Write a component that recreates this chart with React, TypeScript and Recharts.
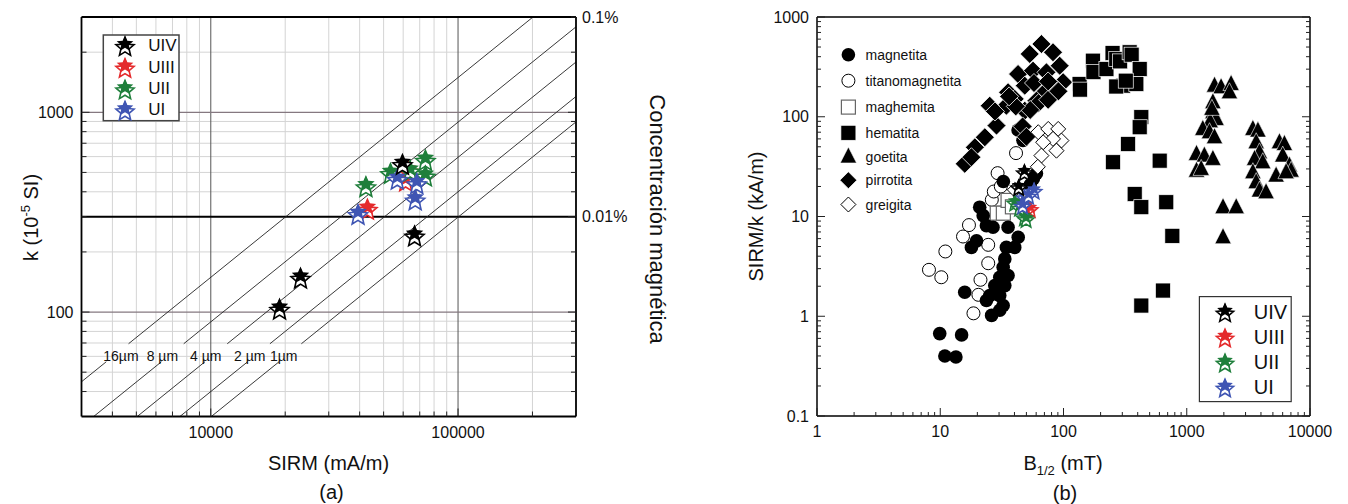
import React from "react";
import { ScatterChart, Scatter, XAxis, YAxis, ReferenceLine } from "recharts";

const FONT = "'Liberation Sans', Arial, Helvetica, sans-serif";

// ---------- panel (a): k vs SIRM ----------
const sirmMajor = [10000, 100000];
const sirmMinor = [4000, 5000, 6000, 7000, 8000, 9000, 20000, 30000, 40000, 50000, 60000, 70000, 80000, 90000, 200000];
const kMajor = [100, 1000];
const kMinor = [40, 50, 60, 70, 80, 90, 200, 300, 400, 500, 600, 700, 800, 900, 2000];
const concTicks = [30, 300, 3000];
const concLabels = ["0.001%", "0.01%", "0.1%"];
const grainRatio = [67, 112, 168, 250, 335]; // SIRM / k along each grain-size line
const grainNames = ["16µm", "8 µm", "4 µm", "2 µm", "1µm"];

const uivA: [number, number][] = [[59600, 557], [66700, 244], [23060, 150], [18970, 105]];
const uiiiA: [number, number][] = [[43000, 332], [62700, 516], [61400, 460]];
const uiiA: [number, number][] = [[42400, 431], [73800, 584], [53300, 502], [64000, 516], [73800, 487]];
const uiA: [number, number][] = [[39400, 313], [56800, 469], [68100, 446], [67100, 370]];

// ---------- panel (b): SIRM/k vs B1/2 ----------
const bMajor = [1, 10, 100, 1000, 10000];
const bMinor = [2, 3, 4, 5, 6, 7, 8, 9, 20, 30, 40, 50, 60, 70, 80, 90, 200, 300, 400, 500, 600, 700, 800, 900, 2000, 3000, 4000, 5000, 6000, 7000, 8000, 9000];
const rMajor = [0.1, 1, 10, 100, 1000];
const rMinor = [0.2, 0.3, 0.4, 0.5, 0.6, 0.7, 0.8, 0.9, 2, 3, 4, 5, 6, 7, 8, 9, 20, 30, 40, 50, 60, 70, 80, 90, 200, 300, 400, 500, 600, 700, 800, 900];

const magnetita: [number, number][] = [
  [9.9, 0.67], [14.9, 0.65], [10.9, 0.4], [13.4, 0.39], [15.8, 1.74],
  [20.9, 12.4], [22.3, 10.2], [23.7, 8.1], [26.8, 7.8], [19.7, 5.7], [17.9, 4.9],
  [35.5, 7.8], [42.9, 6.2], [34.4, 4.9], [40.2, 4.9], [33.4, 3.76], [32.4, 3.1],
  [35.5, 2.56], [30.4, 2.46], [27.7, 2.03], [33.4, 2.03], [25.2, 1.61], [30.4, 1.61],
  [32.4, 1.28], [23.7, 1.44], [26.1, 1.02], [30.4, 1.15],
  [32.5, 22.4], [42.8, 73.6], [46.9, 58], [60.3, 27], [53.7, 20.8], [57, 24],
];
const titanomagnetita: [number, number][] = [
  [8.1, 2.92], [10.2, 2.46], [11, 4.46], [15.3, 6.3], [17.1, 8.2], [24.5, 5.2], [24.5, 3.4],
  [21.2, 2.32], [20.4, 1.64], [18.6, 1.07], [26.2, 14.7], [27.2, 17.8], [29.2, 27.2], [41.2, 43.2], [31, 20],
];
const maghemita: [number, number][] = [[29, 10.8], [32.5, 10.8], [35.5, 14.5], [38.5, 12.5]];
const hematita: [number, number][] = [
  [135, 213], [136, 187], [173, 365], [175, 280], [223, 301], [250, 435], [268, 379], [288, 359],
  [344, 443], [357, 419], [415, 301], [304, 205], [390, 213], [268, 201], [320, 230],
  [428, 99], [415, 78.5], [334, 53.3], [252, 35], [603, 36.3], [378, 16.8], [428, 12.4],
  [682, 13.9], [764, 6.4], [641, 1.81], [428, 1.28],
];
const goetita: [number, number][] = [
  [1680, 205], [1900, 198], [2290, 213], [2220, 176], [1630, 140], [1630, 111], [1730, 95],
  [1550, 90], [1600, 120], [1350, 75.5], [1530, 70], [1680, 62.4], [1200, 42.4], [1390, 40.8],
  [1630, 37.8], [1200, 28.8], [1310, 30], [1970, 12.4], [2520, 12.4], [1970, 6.2],
  [3440, 75.5], [3780, 72.6], [3660, 55.5], [3890, 44], [3550, 37.8], [4140, 35], [3440, 27.8],
  [3660, 22.1], [3890, 18.2], [4400, 17.5], [5650, 55.5], [6200, 53.3], [6010, 40.8],
  [6810, 32.4], [7030, 28.8], [5310, 25.7], [6400, 27.8],
];
const pirrotita: [number, number][] = [
  [66.2, 536], [53.2, 426], [82.2, 443], [42.8, 268], [56.6, 290], [72.7, 279], [93.1, 325],
  [99.3, 222], [87.7, 190], [70.4, 176], [60.3, 145], [48.5, 205], [35.5, 176], [40.2, 151],
  [34.4, 129], [48.5, 115], [25.2, 129], [28.6, 81.5], [23, 62.3], [19.1, 49.4], [15.8, 33.7],
  [17.9, 39.3], [27.8, 113], [46.6, 80], [50, 63], [62.8, 137], [75, 148], [53.7, 117],
  [57.6, 218], [75, 226], [91, 180], [41, 127], [36.2, 160],
];
const greigita: [number, number][] = [
  [62.4, 70], [75.2, 75.5], [90.6, 75.5], [96.2, 57.7], [82.2, 60], [87.7, 45.7], [68.4, 55.5],
  [66.2, 40.8], [61.9, 31.5], [40.3, 18.5],
];
const uivB: [number, number][] = [[48.2, 28.3], [43.3, 20]];
const uiiiB: [number, number][] = [[53.7, 12.1], [50, 11.5]];
const uiiB: [number, number][] = [[40.3, 14.1], [48.2, 10], [49.7, 9.6], [44, 12.5]];
const uiB: [number, number][] = [[57.7, 18.5], [48.2, 15.9], [46.6, 13.1], [52, 16.5]];

const RED = "#e42a2c";
const GREEN = "#1f7f3b";
const BLUE = "#3f55b3";

const pts = (a: [number, number][]) => a.map(([x, y]) => ({ x, y }));

function starPath(cx: number, cy: number, R: number, r: number) {
  let d = "";
  for (let i = 0; i < 10; i++) {
    const ang = -Math.PI / 2 + (i * Math.PI) / 5;
    const rad = i % 2 === 0 ? R : r;
    d += (i === 0 ? "M" : "L") + (cx + rad * Math.cos(ang)).toFixed(2) + "," + (cy + rad * Math.sin(ang)).toFixed(2);
  }
  return d + "Z";
}

function DoubleStar({ cx, cy, color, R }: { cx: number; cy: number; color: string; R: number }) {
  return (
    <g>
      <path d={starPath(cx, cy + R * 0.28, R, R * 0.45)} fill="#fff" stroke={color} strokeWidth={1.6} />
      <path d={starPath(cx, cy - R * 0.12, R * 0.92, R * 0.42)} fill={color} />
    </g>
  );
}

const starShape = (color: string, R: number) => (p: any) => <DoubleStar cx={p.cx} cy={p.cy} color={color} R={R} />;
const dotShape = (p: any) => <circle cx={p.cx} cy={p.cy} r={6.8} fill="#000" />;
const ringShape = (p: any) => <circle cx={p.cx} cy={p.cy} r={6.5} fill="#fff" stroke="#000" strokeWidth={1} />;
const openSquare = (p: any) => <rect x={p.cx - 7} y={p.cy - 7} width={14} height={14} fill="#fff" stroke="#666" strokeWidth={1.2} />;
const fullSquare = (p: any) => <rect x={p.cx - 7.5} y={p.cy - 7.5} width={15} height={15} fill="#000" stroke="#fff" strokeWidth={0.7} />;
const diamondShape = (fill: string, h: number) => (p: any) => (
  <path d={`M${p.cx},${p.cy - h}L${p.cx + h},${p.cy}L${p.cx},${p.cy + h}L${p.cx - h},${p.cy}Z`} fill={fill}
    stroke={fill === "#000" ? "#fff" : "#000"} strokeWidth={fill === "#000" ? 0.8 : 1} />
);
const triShape = (p: any) => (
  <path d={`M${p.cx},${p.cy - 9.5}L${p.cx + 8.2},${p.cy + 6.5}L${p.cx - 8.2},${p.cy + 6.5}Z`} fill="#000" stroke="#fff" strokeWidth={0.6} />
);

type Side = "bottom" | "top" | "left" | "right";
function tickFn(side: Side, majors: number[], lenMajor: number, lenMinor: number, label?: (v: number) => string | null, fs = 16) {
  return (p: any) => {
    const x = p.x as number;
    const y = p.y as number;
    const v = p.payload?.value as number;
    const major = majors.includes(v);
    const len = major ? lenMajor : lenMinor;
    let x2 = x, y2 = y;
    if (side === "bottom") y2 = y - len;
    if (side === "top") y2 = y + len;
    if (side === "left") x2 = x + len;
    if (side === "right") x2 = x - len;
    const txt = label ? label(v) : null;
    let t = null;
    if (txt) {
      if (side === "bottom") t = <text x={x} y={y + 21} textAnchor="middle" fontSize={fs} fontFamily={FONT} fill="#111">{txt}</text>;
      if (side === "left") t = <text x={x - 8} y={y + 5.5} textAnchor="end" fontSize={fs} fontFamily={FONT} fill="#111">{txt}</text>;
      if (side === "right") t = <text x={x + 6} y={y + 5.5} textAnchor="start" fontSize={fs} fontFamily={FONT} fill="#111">{txt}</text>;
    }
    return (
      <g>
        <line x1={x} y1={y} x2={x2} y2={y2} stroke="#222" strokeWidth={1} />
        {t}
      </g>
    );
  };
}

const AXIS_A = { stroke: "#000", strokeWidth: 1.8 };
const AXIS_B = { stroke: "#000", strokeWidth: 1.5 };

// label gap in the grain-size lines (k values)
const GAP_LO = 56.4;
const GAP_HI = 69.4;

function grainSegments(c: number) {
  const segs: { x: number; y: number }[][] = [];
  const xs = Math.max(3000, 30 * c);
  const xe = GAP_LO * c;
  if (xe > xs) segs.push([{ x: xs, y: xs / c }, { x: xe, y: GAP_LO }]);
  const us = Math.max(3000, GAP_HI * c);
  const ue = Math.min(300000, 3000 * c);
  segs.push([{ x: us, y: us / c }, { x: ue, y: ue / c }]);
  return segs;
}

function PanelA() {
  const allX = [...sirmMinor, ...sirmMajor].sort((a, b) => a - b);
  const allY = [...kMinor, ...kMajor].sort((a, b) => a - b);
  return (
    <ScatterChart width={700} height={504} margin={{ top: 7, right: 64, bottom: 47.5, left: 21.5 }}>
      <XAxis dataKey="x" type="number" scale="log" domain={[3000, 300000]} allowDataOverflow ticks={allX} interval={0}
        tickSize={0} tickMargin={0} tickLine={false} axisLine={AXIS_A} height={40}
        tick={tickFn("bottom", sirmMajor, 8, 5, (v) => (sirmMajor.includes(v) ? String(v) : null))} />
      <XAxis xAxisId="t" orientation="top" type="number" scale="log" domain={[3000, 300000]} allowDataOverflow ticks={allX} interval={0}
        tickSize={0} tickMargin={0} tickLine={false} axisLine={AXIS_A} height={10} tick={tickFn("top", sirmMajor, 8, 5)} />
      <YAxis dataKey="y" type="number" scale="log" domain={[30, 3000]} allowDataOverflow ticks={allY} interval={0}
        tickSize={0} tickMargin={0} tickLine={false} axisLine={AXIS_A} width={60}
        tick={tickFn("left", kMajor, 8, 5, (v) => (kMajor.includes(v) ? String(v) : null))} />
      <YAxis yAxisId="r" orientation="right" type="number" scale="log" domain={[30, 3000]} allowDataOverflow ticks={[...allY, 3000]} interval={0}
        tickSize={0} tickMargin={0} tickLine={false} axisLine={AXIS_A} width={60}
        tick={tickFn("right", [...kMajor, 300], 8, 5, (v) => { const i = concTicks.indexOf(v); return i >= 0 ? concLabels[i] : null; })} />

      {sirmMinor.map((v) => <ReferenceLine key={"vx" + v} x={v} stroke="#d4d4d4" strokeWidth={1} />)}
      {kMinor.map((v) => <ReferenceLine key={"hy" + v} y={v} stroke="#d4d4d4" strokeWidth={1} />)}
      {sirmMajor.map((v) => <ReferenceLine key={"VX" + v} x={v} stroke="#555" strokeWidth={1} />)}
      {kMajor.map((v) => <ReferenceLine key={"HY" + v} y={v} stroke="#857880" strokeWidth={1.3} />)}
      <ReferenceLine y={300} stroke="#000" strokeWidth={2} />
      {grainRatio.map((c) => grainSegments(c).map((s, i) => (
        <ReferenceLine key={"g" + c + "-" + i} segment={s} stroke="#222" strokeWidth={0.9} ifOverflow="hidden" />
      )))}

      <Scatter name="UIII" data={pts(uiiiA)} isAnimationActive={false} shape={starShape(RED, 10)} />
      <Scatter name="UII" data={pts(uiiA)} isAnimationActive={false} shape={starShape(GREEN, 10)} />
      <Scatter name="UI" data={pts(uiA)} isAnimationActive={false} shape={starShape(BLUE, 10)} />
      <Scatter name="UIV" data={pts(uivA)} isAnimationActive={false} shape={starShape("#000", 10)} />
    </ScatterChart>
  );
}

function PanelB() {
  const allX = [...bMinor, ...bMajor].sort((a, b) => a - b);
  const allY = [...rMinor, ...rMajor].sort((a, b) => a - b);
  return (
    <ScatterChart width={648} height={504} margin={{ top: 7, right: 18, bottom: 48, left: 57 }}>
      <XAxis dataKey="x" type="number" scale="log" domain={[1, 10000]} allowDataOverflow ticks={allX} interval={0}
        tickSize={0} tickMargin={0} tickLine={false} axisLine={AXIS_B} height={40}
        tick={tickFn("bottom", bMajor, 8, 4, (v) => (bMajor.includes(v) ? String(v) : null))} />
      <XAxis xAxisId="t" orientation="top" type="number" scale="log" domain={[1, 10000]} allowDataOverflow ticks={allX} interval={0}
        tickSize={0} tickMargin={0} tickLine={false} axisLine={AXIS_B} height={10} tick={tickFn("top", bMajor, 8, 4)} />
      <YAxis dataKey="y" type="number" scale="log" domain={[0.1, 1000]} allowDataOverflow ticks={allY} interval={0}
        tickSize={0} tickMargin={0} tickLine={false} axisLine={AXIS_B} width={60}
        tick={tickFn("left", rMajor, 8, 4, (v) => (rMajor.includes(v) ? String(v) : null))} />
      <YAxis yAxisId="r" orientation="right" type="number" scale="log" domain={[0.1, 1000]} allowDataOverflow ticks={allY} interval={0}
        tickSize={0} tickMargin={0} tickLine={false} axisLine={AXIS_B} width={20} tick={tickFn("right", rMajor, 8, 4)} />

      <Scatter name="titanomagnetita" data={pts(titanomagnetita)} isAnimationActive={false} shape={ringShape} />
      <Scatter name="maghemita" data={pts(maghemita)} isAnimationActive={false} shape={openSquare} />
      <Scatter name="magnetita" data={pts(magnetita)} isAnimationActive={false} shape={dotShape} />
      <Scatter name="pirrotita" data={pts(pirrotita)} isAnimationActive={false} shape={diamondShape("#000", 9.5)} />
      <Scatter name="greigita" data={pts(greigita)} isAnimationActive={false} shape={diamondShape("#fff", 7.5)} />
      <Scatter name="hematita" data={pts(hematita)} isAnimationActive={false} shape={fullSquare} />
      <Scatter name="goetita" data={pts(goetita)} isAnimationActive={false} shape={triShape} />
      <Scatter name="UIII" data={pts(uiiiB)} isAnimationActive={false} shape={starShape(RED, 8)} />
      <Scatter name="UII" data={pts(uiiB)} isAnimationActive={false} shape={starShape(GREEN, 8)} />
      <Scatter name="UI" data={pts(uiB)} isAnimationActive={false} shape={starShape(BLUE, 8)} />
      <Scatter name="UIV" data={pts(uivB)} isAnimationActive={false} shape={starShape("#000", 8)} />
    </ScatterChart>
  );
}

const unitNames = ["UIV", "UIII", "UII", "UI"];
const unitColors = ["#000", RED, GREEN, BLUE];
const mineralNames = ["magnetita", "titanomagnetita", "maghemita", "hematita", "goetita", "pirrotita", "greigita"];

function Overlay() {
  const mineralIcons = [dotShape, ringShape, openSquare, fullSquare, triShape, diamondShape("#000", 8.5), diamondShape("#fff", 7.5)];
  const legYs = [54.7, 80.7, 107.1, 132.8, 156.5, 180.2, 204.5];
  return (
    <svg width={1348} height={504} style={{ position: "absolute", left: 0, top: 0, pointerEvents: "none" }} fontFamily={FONT}>
      {/* panel (a) titles */}
      <text x={328.5} y={470} textAnchor="middle" fontSize={20} fill="#111">SIRM (mA/m)</text>
      <text x={331.5} y={499} textAnchor="middle" fontSize={20} fill="#111">(a)</text>
      <text transform="translate(38,217.5) rotate(-90)" textAnchor="middle" fontSize={20} fill="#111">
        k (10<tspan dy={-8} fontSize={13}>-5</tspan><tspan dy={8}> SI)</tspan>
      </text>
      <text transform="translate(650,219) rotate(90)" textAnchor="middle" fontSize={22} fill="#111">Concentración magnética</text>
      {grainNames.map((g, i) => (
        <text key={g} x={[103.3, 146.7, 190, 234, 270][i]} y={361} fontSize={14} fill="#111">{g}</text>
      ))}
      {/* legend (a) */}
      <rect x={103.3} y={35} width={75.7} height={85.7} fill="#fff" stroke="#444" strokeWidth={1.5} />
      {unitNames.map((n, i) => (
        <g key={n}>
          <DoubleStar cx={125} cy={[45, 66.7, 88.3, 109.3][i]} color={unitColors[i]} R={9.5} />
          <text x={148.3} y={[45, 66.7, 88.3, 109.3][i] + 6} fontSize={17} fill="#111">{n}</text>
        </g>
      ))}

      {/* panel (b) titles */}
      <text transform="translate(763,216.5) rotate(-90)" textAnchor="middle" fontSize={20} fill="#111">SIRM/k (kA/m)</text>
      <text x={1063} y={470} textAnchor="middle" fontSize={20} fill="#111">
        B<tspan dy={5} fontSize={13}>1/2</tspan><tspan dy={-5}> (mT)</tspan>
      </text>
      <text x={1065} y={500} textAnchor="middle" fontSize={20} fill="#111">(b)</text>
      {mineralNames.map((n, i) => (
        <g key={n}>
          {mineralIcons[i]({ cx: 848.4, cy: legYs[i] })}
          <text x={865.6} y={legYs[i] + 5} fontSize={14} fill="#111">{n}</text>
        </g>
      ))}
      <rect x={1199.4} y={296.6} width={91.8} height={105} fill="#fff" stroke="#333" strokeWidth={1.2} />
      {unitNames.map((n, i) => (
        <g key={"b" + n}>
          <DoubleStar cx={1225} cy={[311.6, 336.7, 361.7, 386.7][i]} color={unitColors[i]} R={9} />
          <text x={1253.7} y={[311.6, 336.7, 361.7, 386.7][i] + 7} fontSize={20} fill="#111">{n}</text>
        </g>
      ))}
    </svg>
  );
}

export default function App() {
  return (
    <div style={{ position: "absolute", left: 0, top: 0, width: 1348, height: 504, background: "#fff", fontFamily: FONT }}>
      <div style={{ position: "absolute", left: 0, top: 0 }}>
        <PanelA />
      </div>
      <div style={{ position: "absolute", left: 700, top: 0 }}>
        <PanelB />
      </div>
      <Overlay />
    </div>
  );
}
